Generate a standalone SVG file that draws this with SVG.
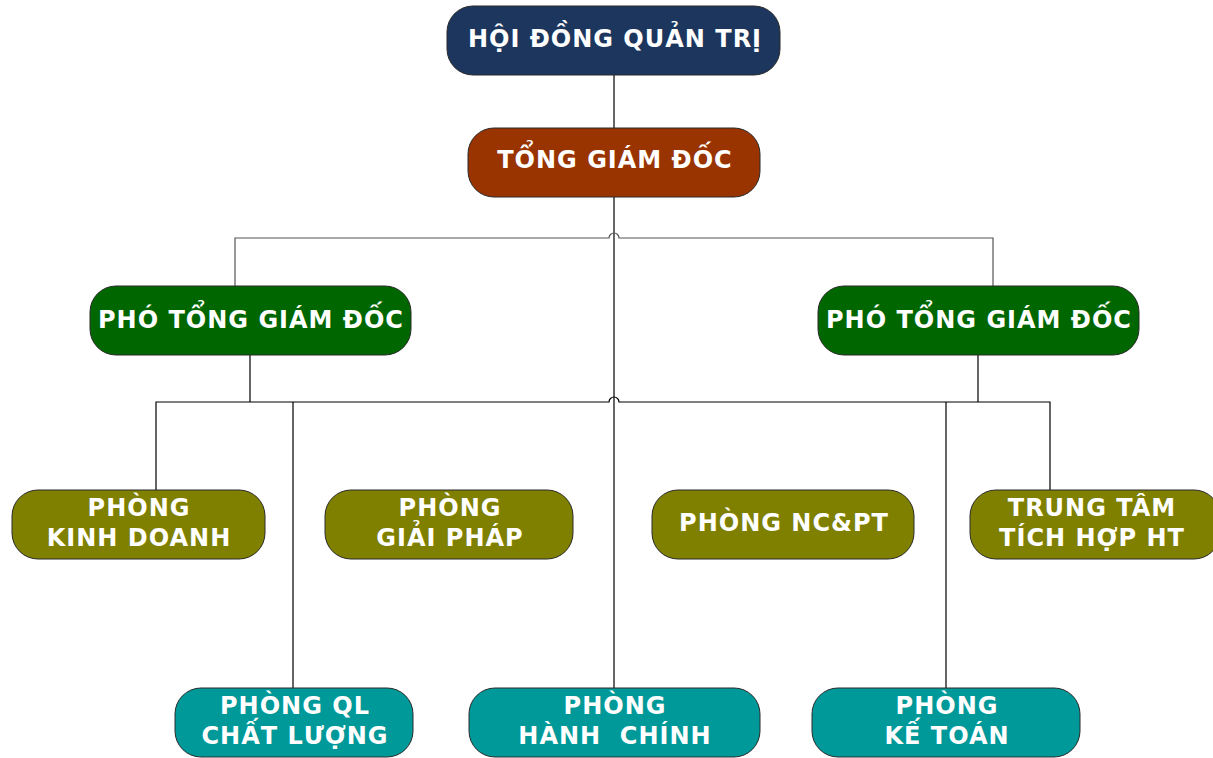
<svg xmlns="http://www.w3.org/2000/svg" width="1213" height="758" viewBox="0 0 1213 758">
<style>
.n{stroke:#2a2a2a;stroke-width:1}
.t{font-family:"DejaVu Sans",Verdana,sans-serif;font-weight:bold;font-size:24px;letter-spacing:1px;fill:#ffffff;text-anchor:middle}
.c{fill:none;stroke:#000;stroke-width:1.2}
.g{fill:none;stroke:#555;stroke-width:1.2}
</style>
<rect width="1213" height="758" fill="#ffffff"/>
<g id="connectors">
<path class="c" d="M614,75V128"/>
<path class="c" d="M614,197V688"/>
<path class="g" d="M235,286V238H609a5,5 0 0 1 10,0H993V286"/>
<path class="c" d="M250,355V402M978,355V402"/>
<path class="c" d="M156,490V402H609a5,5 0 0 1 10,0H1050V490"/>
<path class="c" d="M293,402V688M946,402V688"/>
</g>
<g id="hdqt"><rect class="n" x="447" y="6" width="333" height="69" rx="26" fill="#1c365d"/><text class="t" x="615" y="47">HỘI ĐỒNG QUẢN TRỊ</text></g>
<g id="tgd"><rect class="n" x="468" y="128" width="292" height="69" rx="26" fill="#993300"/><text class="t" x="615" y="168">TỔNG GIÁM ĐỐC</text></g>
<g id="ptgd1"><rect class="n" x="90" y="286" width="321" height="69" rx="26" fill="#006600"/><text class="t" x="251" y="328">PHÓ TỔNG GIÁM ĐỐC</text></g>
<g id="ptgd2"><rect class="n" x="818" y="286" width="321" height="69" rx="26" fill="#006600"/><text class="t" x="979" y="328">PHÓ TỔNG GIÁM ĐỐC</text></g>
<g id="kinhdoanh"><rect class="n" x="12" y="490" width="253" height="69" rx="26" fill="#808000"/><text class="t" x="139" y="516">PHÒNG</text><text class="t" x="139" y="546">KINH DOANH</text></g>
<g id="giaiphap"><rect class="n" x="325" y="490" width="248" height="69" rx="26" fill="#808000"/><text class="t" x="450" y="516">PHÒNG</text><text class="t" x="450" y="546">GIẢI PHÁP</text></g>
<g id="ncpt"><rect class="n" x="652" y="490" width="262" height="69" rx="26" fill="#808000"/><text class="t" x="784" y="531">PHÒNG NC&amp;PT</text></g>
<g id="trungtam"><rect class="n" x="970" y="490" width="250" height="69" rx="26" fill="#808000"/><text class="t" x="1092" y="516">TRUNG TÂM</text><text class="t" x="1092" y="546">TÍCH HỢP HT</text></g>
<g id="qlcl"><rect class="n" x="175" y="688" width="238" height="69" rx="26" fill="#009999"/><text class="t" x="295" y="714">PHÒNG QL</text><text class="t" x="295" y="744">CHẤT LƯỢNG</text></g>
<g id="hanhchinh"><rect class="n" x="469" y="688" width="291" height="69" rx="26" fill="#009999"/><text class="t" x="615" y="714">PHÒNG</text><text class="t" x="615" y="744" xml:space="preserve">HÀNH  CHÍNH</text></g>
<g id="ketoan"><rect class="n" x="812" y="688" width="268" height="69" rx="26" fill="#009999"/><text class="t" x="947" y="714">PHÒNG</text><text class="t" x="947" y="744">KẾ TOÁN</text></g>
</svg>
